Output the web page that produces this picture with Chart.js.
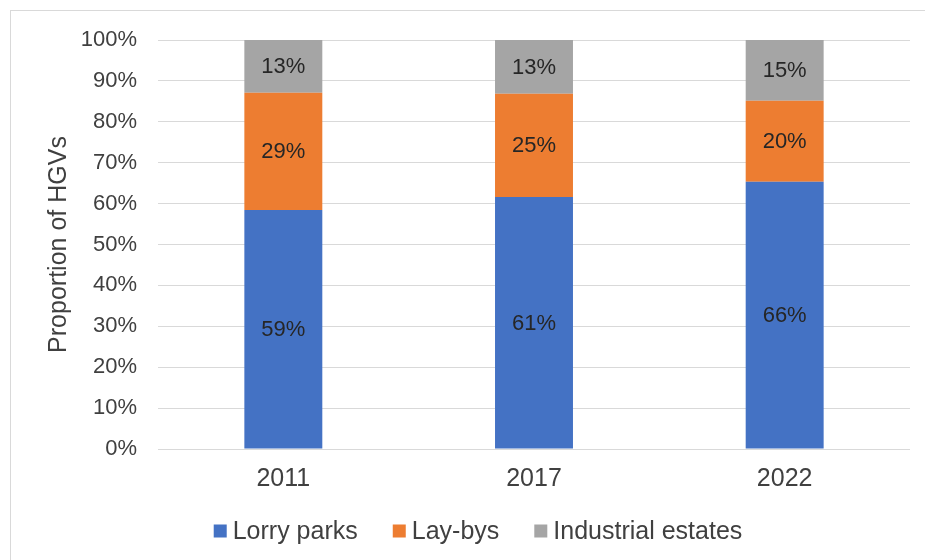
<!DOCTYPE html>
<html>
<head>
<meta charset="utf-8">
<title>Proportion of HGVs</title>
<script src="https://cdn.jsdelivr.net/npm/chart.js@4.4.1/dist/chart.umd.min.js"></script>
<style>
    body { margin: 0; background: #fff; overflow: hidden; }
    #wrap { position: relative; width: 925px; height: 560px; }
    #frame {
        position: absolute; left: 10px; top: 10px; width: 1000px; height: 1000px;
        border-left: 1px solid #d9d9d9; border-top: 1px solid #d9d9d9;
    }
    canvas { position: absolute; left: 0; top: 0; }
</style>
</head>
<body>
<div id="wrap">
    <div id="frame"></div>
    <canvas id="hgvChart" width="925" height="560"></canvas>
</div>
<script>
const years = ['2011', '2017', '2022'];
const lorryParks = [59, 61, 66];
const layBys = [29, 25, 20];
const industrialEstates = [13, 13, 15];

const FONT = "'Liberation Sans', Arial, sans-serif";

// 100% stacked: each bar piece is its share of that year's total
const totals = years.map((_, i) => lorryParks[i] + layBys[i] + industrialEstates[i]);
const share = arr => arr.map((v, i) => v / totals[i] * 100);

// write each segment's stated value in the middle of its bar piece
const segmentLabels = {
    id: 'segmentLabels',
    afterDatasetsDraw(chart) {
        const ctx = chart.ctx;
        ctx.save();
        ctx.font = '22px ' + FONT;
        ctx.fillStyle = '#262626';
        ctx.textAlign = 'center';
        ctx.textBaseline = 'middle';
        chart.data.datasets.forEach((ds, i) => {
            chart.getDatasetMeta(i).data.forEach((bar, j) => {
                ctx.fillText(ds.labelValues[j] + '%', bar.x, (bar.y + bar.base) / 2 + 1);
            });
        });
        ctx.restore();
    }
};

// compact legend row under the axis (small gap between swatch and text)
const bottomLegend = {
    id: 'bottomLegend',
    afterDraw(chart) {
        const ctx = chart.ctx;
        const box = 13, gap = 6, spacing = 35, cx = 478, cy = 531;
        ctx.save();
        ctx.font = '25px ' + FONT;
        ctx.textBaseline = 'middle';
        const items = chart.data.datasets.map(ds => ({
            text: ds.label, color: ds.backgroundColor, w: ctx.measureText(ds.label).width
        }));
        const total = items.reduce((s, it) => s + box + gap + it.w, 0) + spacing * (items.length - 1);
        let x = cx - total / 2;
        items.forEach(it => {
            ctx.fillStyle = it.color;
            ctx.fillRect(x, cy - box / 2, box, box);
            ctx.fillStyle = '#404040';
            ctx.fillText(it.text, x + box + gap, cy + 1);
            x += box + gap + it.w + spacing;
        });
        ctx.restore();
    }
};

new Chart(document.getElementById('hgvChart'), {
    type: 'bar',
    data: {
        labels: years,
        datasets: [
            { label: 'Lorry parks', data: share(lorryParks), labelValues: lorryParks, backgroundColor: '#4472C4' },
            { label: 'Lay-bys', data: share(layBys), labelValues: layBys, backgroundColor: '#ED7D31' },
            { label: 'Industrial estates', data: share(industrialEstates), labelValues: industrialEstates, backgroundColor: '#A5A5A5' }
        ]
    },
    options: {
        responsive: false,
        animation: false,
        layout: { padding: { top: 40, right: 15, left: 0, bottom: 61 } },
        datasets: { bar: { barPercentage: 0.311, categoryPercentage: 1 } },
        plugins: {
            tooltip: { enabled: false },
            legend: { display: false }
        },
        scales: {
            x: {
                stacked: true,
                grid: { display: false },
                border: { display: false },
                ticks: { font: { family: FONT, size: 25 }, color: '#404040', padding: 7 },
                afterFit: s => { s.height = 50; }
            },
            y: {
                stacked: true,
                min: 0,
                max: 100,
                grid: { color: '#d9d9d9', drawTicks: false },
                border: { display: false },
                ticks: {
                    stepSize: 10,
                    font: { family: FONT, size: 22 },
                    color: '#404040',
                    padding: 21,
                    callback: v => v + '%'
                },
                title: {
                    display: true,
                    text: 'Proportion of HGVs',
                    font: { family: FONT, size: 25 },
                    color: '#404040',
                    padding: { top: 44, bottom: 0 }
                },
                afterFit: s => { s.width = 158; }
            }
        }
    },
    plugins: [segmentLabels, bottomLegend]
});
</script>
</body>
</html>
